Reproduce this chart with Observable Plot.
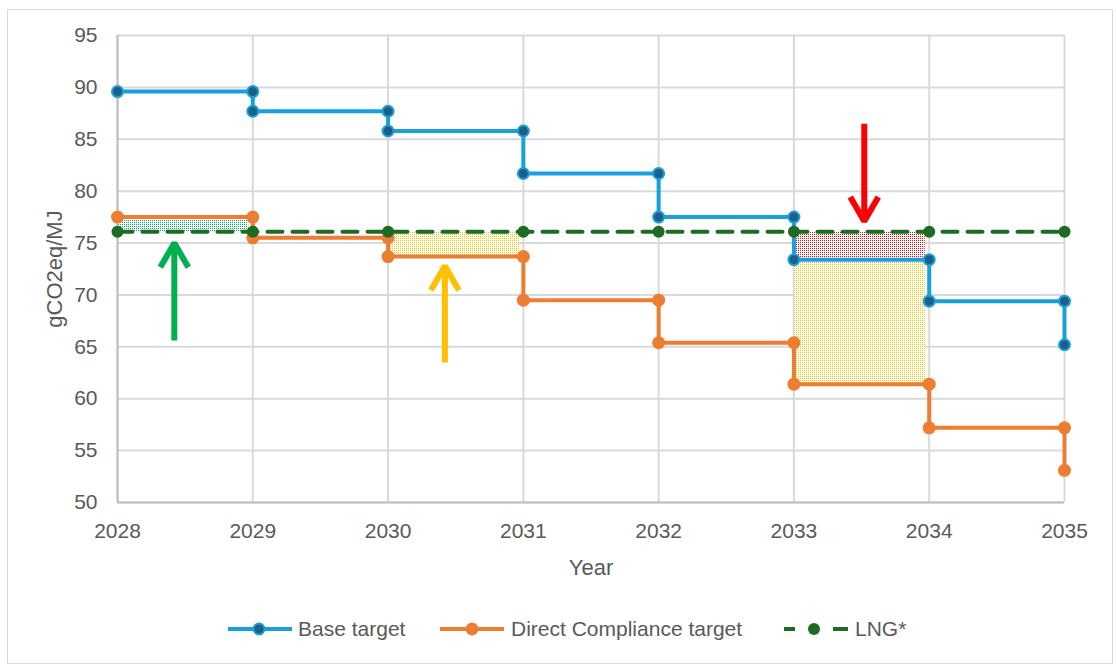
<!DOCTYPE html>
<html>
<head>
<meta charset="utf-8">
<script src="https://cdn.jsdelivr.net/npm/d3@7"></script>
<script src="https://cdn.jsdelivr.net/npm/@observablehq/plot@0.6"></script>
<style>
  html, body { margin: 0; padding: 0; background: #fff; }
  body { width: 1117px; height: 669px; position: relative; overflow: hidden; font-family: "Liberation Sans", Arial, sans-serif; }
  #frame { position: absolute; left: 7px; top: 9px; width: 1106px; height: 655px; border: 1.5px solid #d9d9d9; box-sizing: border-box; }
  #chart { position: absolute; left: 0; top: 0; }
  #legend { position: absolute; left: 0; top: 0; }
  .sw { position: absolute; top: 617px; display: block; }
  .lt { position: absolute; top: 616px; height: 26px; line-height: 26px; font-family: "Liberation Sans", Arial, sans-serif;
        font-size: 21px; color: #595959; white-space: nowrap; }
</style>
</head>
<body>
<div id="frame"></div>
<div id="chart"></div>
<div id="legend"></div>
<script>
// ---- data ----
const years = [2028, 2029, 2030, 2031, 2032, 2033, 2034, 2035];
const baseTarget = [89.6, 87.7, 85.8, 81.7, 77.5, 73.4, 69.4, 65.2];
const directTarget = [77.5, 75.5, 73.7, 69.5, 65.4, 61.4, 57.2, 53.1];
const lngValue = [76.1, 76.1, 76.1, 76.1, 76.1, 76.1, 76.1, 76.1];
const yTicks = [50, 55, 60, 65, 70, 75, 80, 85, 90, 95];
const seriesNames = ["Base target", "Direct Compliance target", "LNG*"];

// shaded gaps between series over one year
const shadeYears = [2028, 2030, 2033, 2033];
const shadeLower = ["LNG*", "Direct Compliance target", "Base target", "Direct Compliance target"];
const shadeUpper = ["Direct Compliance target", "LNG*", "LNG*", "Base target"];
const shadeColors = ["#00b050", "#ffc000", "#ff0000", "#ffc000"];

// annotation arrows
const arrowX = [2028.42, 2030.42, 2033.52];
const arrowFrom = [65.6, 63.5, 86.5];
const arrowTo = [75.0, 72.8, 77.1];
const arrowColors = ["#00b050", "#ffc000", "#ff0000"];

// ---- helpers ----
const seriesValues = {"Base target": baseTarget, "Direct Compliance target": directTarget, "LNG*": lngValue};
const valueAt = (name, year) => seriesValues[name][years.indexOf(year)];
const points = (vals) => years.map((x, i) => ({x, y: vals[i]}));
const corners = (vals) => years.flatMap((x, i) => i === 0 ? [{x, y: vals[0]}] : [{x, y: vals[i - 1]}, {x, y: vals[i]}]);

const colBase = "#17a0da", colBaseDot = "#1d5f89";
const colDirect = "#ed7d31";
const colLng = "#1e6b24";
const font = '"Liberation Sans", Arial, sans-serif';

const shades = shadeYears.map((yr, i) => ({
  x1: yr, x2: years[years.indexOf(yr) + 1],
  y1: valueAt(shadeLower[i], yr), y2: valueAt(shadeUpper[i], yr), i
}));
const arrows = arrowX.map((x, i) => ({x, y1: arrowFrom[i], y2: arrowTo[i], c: arrowColors[i]}));

const svg = Plot.plot({
  width: 1117,
  height: 600,
  marginLeft: 117,
  marginRight: 53,
  marginTop: 35,
  marginBottom: 98,
  style: {fontSize: "21px", fontFamily: font, color: "#595959", background: "transparent", overflow: "visible"},
  x: {domain: [2028, 2035], label: null},
  y: {domain: [50, 95], label: null},
  marks: [
    Plot.gridY(yTicks, {stroke: "#d9d9d9", strokeOpacity: 1, strokeWidth: 2}),
    Plot.gridX(years, {stroke: "#d9d9d9", strokeOpacity: 1, strokeWidth: 2}),
    Plot.ruleX([2028], {stroke: "#bfbfbf", strokeWidth: 2}),
    Plot.ruleY([50], {stroke: "#bfbfbf", strokeWidth: 2}),
    Plot.axisX(years, {tickFormat: "d", tickSize: 0, tickPadding: 21, fontSize: 21, fill: "#595959", label: null}),
    Plot.axisY(yTicks, {tickSize: 0, tickPadding: 20, fontSize: 21, fill: "#595959", label: null}),
    ...shades.map(s => Plot.rect([s], {x1: "x1", x2: "x2", y1: "y1", y2: "y2", fill: `url(#pat${s.i})`, insetLeft: 1, insetRight: 4})),
    Plot.line(points(baseTarget), {x: "x", y: "y", curve: "step-after", stroke: colBase, strokeWidth: 4}),
    Plot.dot(corners(baseTarget), {x: "x", y: "y", r: 5.5, fill: colBaseDot, stroke: colBase, strokeWidth: 2}),
    Plot.line(points(directTarget), {x: "x", y: "y", curve: "step-after", stroke: colDirect, strokeWidth: 4}),
    Plot.dot(corners(directTarget), {x: "x", y: "y", r: 6.5, fill: colDirect}),
    Plot.line(points(lngValue), {x: "x", y: "y", stroke: colLng, strokeWidth: 4, strokeDasharray: "15 10"}),
    Plot.dot(points(lngValue), {x: "x", y: "y", r: 6, fill: colLng}),
    Plot.arrow(arrows, {x1: "x", x2: "x", y1: "y1", y2: "y2", stroke: "c", strokeWidth: 6, headLength: 7, headAngle: 60, strokeLinejoin: "miter", strokeLinecap: "butt"}),
    Plot.text(["Year"], {text: d => d, frameAnchor: "bottom", lineAnchor: "middle", textAnchor: "middle", dy: 65, fontSize: 22, fill: "#595959"}),
    Plot.text(["gCO2eq/MJ"], {text: d => d, frameAnchor: "left", lineAnchor: "middle", textAnchor: "middle", dx: -63, rotate: -90, fontSize: 22, fill: "#595959"})
  ]
});

// dotted fill patterns
const defs = d3.select(svg).insert("defs", ":first-child");
shades.forEach(s => {
  const p = defs.append("pattern").attr("id", `pat${s.i}`).attr("patternUnits", "userSpaceOnUse")
    .attr("width", 2).attr("height", 2);
  p.append("rect").attr("width", 2).attr("height", 2).attr("fill", "#fff");
  p.append("rect").attr("x", 0).attr("y", 0).attr("width", 1).attr("height", 1).attr("fill", shadeColors[s.i]);
});

document.getElementById("chart").appendChild(svg);

// legend
const legendStyles = [
  {stroke: colBase, dash: null, dotFill: colBaseDot, dotStroke: colBase, r: 5.5, cx: 31},
  {stroke: colDirect, dash: null, dotFill: colDirect, dotStroke: "none", r: 6.5, cx: 32},
  {stroke: colLng, dash: "11 38 15", dotFill: colLng, dotStroke: "none", r: 6, cx: 30}
];
const swatchLeft = [228, 440, 784];
const textLeft = [298, 511, 855];
const legend = d3.select("#legend");
seriesNames.forEach((name, i) => {
  const st = legendStyles[i];
  const s = legend.append("svg").attr("class", "sw").attr("width", 64).attr("height", 24).style("left", swatchLeft[i] + "px");
  s.append("line").attr("x1", 0).attr("x2", 64).attr("y1", 12).attr("y2", 12)
    .attr("stroke", st.stroke).attr("stroke-width", 4).attr("stroke-dasharray", st.dash);
  s.append("circle").attr("cx", st.cx).attr("cy", 12).attr("r", st.r)
    .attr("fill", st.dotFill).attr("stroke", st.dotStroke).attr("stroke-width", 2);
  legend.append("div").attr("class", "lt").style("left", textLeft[i] + "px").text(name);
});
</script>
</body>
</html>
